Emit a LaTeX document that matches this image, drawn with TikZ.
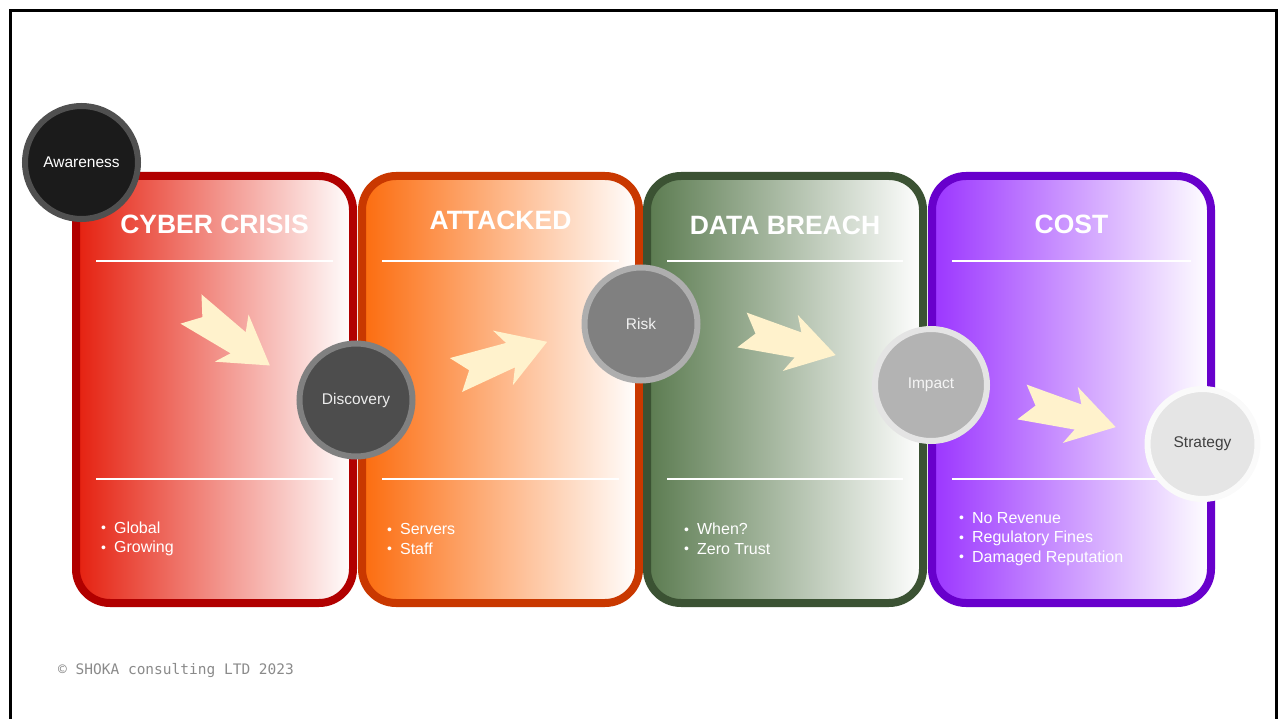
\documentclass[tikz,border=0pt]{standalone}
\usepackage{fontspec}
\setmainfont{Liberation Sans}
\newfontfamily\footerfont{DejaVu Sans Mono}
\usetikzlibrary{positioning}

\definecolor{crisisfill}{HTML}{E5200F}
\definecolor{crisisline}{HTML}{B10000}
\definecolor{attackfill}{HTML}{FC6C0E}
\definecolor{attackline}{HTML}{C93800}
\definecolor{breachfill}{HTML}{5B7B50}
\definecolor{breachline}{HTML}{3B5233}
\definecolor{costfill}{HTML}{9B35FF}
\definecolor{costline}{HTML}{6800CC}
\definecolor{pushfill}{HTML}{FFF2CC}
\definecolor{footergray}{HTML}{8A8A8A}

\newcommand{\itm}{\raisebox{0.5pt}{\fontsize{14}{14}\selectfont\textbullet}\hspace{8pt}}

\tikzset{
  panel/.style={line width=8pt, rounded corners=34pt, right color=white},
  paneltitle/.style={text=white, inner sep=0pt, font=\bfseries\fontsize{26.5}{30}\selectfont},
  sepline/.style={white, line width=2pt},
  facts/.style={text=white, align=left, anchor=west, inner sep=0pt, font=\fontsize{16}{19.5}\selectfont},
  stagecircle/.style={circle, line width=6pt, minimum size=113pt, inner sep=0pt, font=\fontsize{15.5}{18}\selectfont},
  notcharrow/.pic={
    \fill[pushfill] (0,18) -- (58,13) -- (50,29) -- (97,0) -- (50,-29) -- (58,-13) -- (0,-18) -- (14,0) -- cycle;
  }
}

\begin{document}
\begin{tikzpicture}[x=1pt,y=-1pt]
\useasboundingbox (0,0) rectangle (1278,719);
% frame
\draw[line width=3pt] (10,730) -- (10,10.5) -- (1276,10.5) -- (1276,730);

% panels
\foreach \n/\xl/\xr/\fc/\bc/\ty/\title in {1/72/357/crisisfill/crisisline/224/CYBER CRISIS,
    2/358/643/attackfill/attackline/220/ATTACKED,
    3/643/927/breachfill/breachline/225/DATA BREACH,
    4/928/1215/costfill/costline/224/COST} {
\draw[panel, left color=\fc, draw=\bc] (\xl+4,176) rectangle (\xr-4,603);
\node[paneltitle] (title\n) at ({(\xl+\xr)/2},\ty) {\title};
\draw[sepline] (\xl+24,261) -- (\xr-24,261);
\draw[sepline] (\xl+24,479) -- (\xr-24,479);
}

% bullet points
\node[facts] (facts1) at (101,539) {\itm Global\\\itm Growing};
\node[facts] (facts2) at (387,539) {\itm Servers\\\itm Staff};
\node[facts] (facts3) at (684,539) {\itm When?\\\itm Zero Trust};
\node[facts] (facts4) at (959,539) {\itm No Revenue\\\itm Regulatory Fines\\\itm Damaged Reputation};

% arrows
\pic[rotate=-35.6] (push1) at (191,309) {notcharrow};
\pic[rotate=20] (push2) at (456,375) {notcharrow};
\pic[rotate=-15] (push3) at (742,330) {notcharrow};
\pic[rotate=-15] (push4) at (1022,402) {notcharrow};

% stages
\node[stagecircle, fill={rgb,255:red,27;green,27;blue,27}, draw={rgb,255:red,80;green,80;blue,80}, text=white] (awareness) at (81.5,162.5) {Awareness};
\node[stagecircle, fill={rgb,255:red,77;green,77;blue,77}, draw={rgb,255:red,128;green,128;blue,128}, text={rgb,255:red,237;green,237;blue,237}] (discovery) at (356,400) {Discovery};
\node[stagecircle, fill={rgb,255:red,128;green,128;blue,128}, draw={rgb,255:red,174;green,174;blue,174}, text={rgb,255:red,242;green,242;blue,242}] (risk) at (641,324) {Risk};
\node[stagecircle, minimum size=112pt, fill={rgb,255:red,179;green,179;blue,179}, draw={rgb,255:red,228;green,228;blue,228}, text={rgb,255:red,245;green,245;blue,245}] (impact) at (931,385) {Impact};
\node[stagecircle, minimum size=110pt, fill={rgb,255:red,229;green,229;blue,229}, draw={rgb,255:red,250;green,250;blue,250}, text={rgb,255:red,64;green,64;blue,64}] (strategy) at (1202.5,444) {Strategy};

% footer
\node[anchor=west, inner sep=0pt, text=footergray, font=\footerfont\fontsize{14.5}{17}\selectfont] (copyright) at (58,671) {© SHOKA consulting LTD\ 2023};
\end{tikzpicture}
\end{document}
